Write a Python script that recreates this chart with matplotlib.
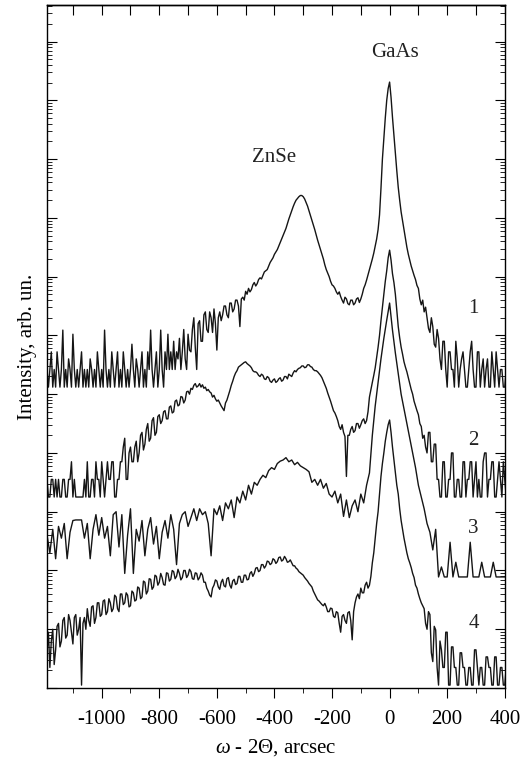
import numpy as np
import matplotlib
matplotlib.use('Agg')
import matplotlib.pyplot as plt
from matplotlib.ticker import LogLocator, NullFormatter, MultipleLocator

# omega - 2theta scan positions, arcsec
x_fine = np.arange(-1190, 406, 5)      # curves 1, 2, 4 (5 arcsec step)
x_coarse = np.arange(-1190, 401, 10)   # curve 3 (10 arcsec step)

# log10 of intensity (curves already shifted apart)
log_I1 = [
    5.42, 5.12, 5.42, 5.72, 5.12, 5.42, 5.12, 5.72, 5.42, 5.12, 5.42, 6.09, 5.12, 5.42, 5.12, 5.60, 5.42, 5.12, 6.02, 5.42,  # -1190
    5.12, 5.42, 5.12, 5.42, 5.72, 5.12, 5.42, 5.12, 5.42, 5.12, 5.60, 5.42, 5.12, 5.42, 5.12, 5.72, 5.42, 5.12, 5.42, 5.12,  # -1090
    6.09, 5.42, 5.12, 5.42, 5.12, 5.72, 5.42, 5.12, 5.42, 5.72, 5.12, 5.42, 5.12, 5.72, 5.42, 5.12, 5.42, 5.12, 5.42, 5.85,  # -990
    5.42, 5.12, 5.60, 5.42, 5.12, 5.42, 5.72, 5.12, 5.42, 5.12, 5.72, 5.42, 6.09, 5.42, 5.12, 5.42, 5.72, 5.12, 5.42, 6.09,  # -890
    5.42, 5.12, 5.72, 5.42, 6.02, 5.42, 5.72, 5.42, 5.90, 5.42, 5.72, 5.60, 5.95, 5.42, 5.72, 6.10, 5.60, 5.42, 6.02, 5.75,  # -790
    5.72, 6.10, 6.30, 5.80, 5.42, 6.20, 6.25, 5.90, 5.90, 6.35, 6.40, 6.10, 6.05, 6.40, 6.30, 6.05, 6.45, 6.20, 5.75, 6.30,  # -690
    6.40, 6.25, 6.35, 6.50, 6.50, 6.35, 6.30, 6.55, 6.55, 6.40, 6.45, 6.60, 6.60, 6.50, 6.15, 6.62, 6.65, 6.60, 6.75, 6.70,  # -590
    6.80, 6.74, 6.78, 6.86, 6.90, 6.84, 6.88, 6.95, 6.98, 6.96, 7.02, 7.08, 7.10, 7.12, 7.18, 7.24, 7.28, 7.32, 7.38, 7.42,  # -490
    7.46, 7.52, 7.58, 7.64, 7.70, 7.76, 7.82, 7.90, 7.98, 8.05, 8.12, 8.19, 8.25, 8.30, 8.33, 8.36, 8.38, 8.38, 8.36, 8.32,  # -390
    8.26, 8.20, 8.12, 8.04, 7.96, 7.88, 7.80, 7.71, 7.62, 7.54, 7.46, 7.38, 7.30, 7.20, 7.12, 7.06, 7.00, 6.92, 6.86, 6.84,  # -290
    6.80, 6.74, 6.70, 6.74, 6.66, 6.60, 6.55, 6.65, 6.62, 6.54, 6.52, 6.60, 6.60, 6.52, 6.55, 6.62, 6.64, 6.56, 6.62, 6.70,  # -190
    6.80, 6.86, 6.94, 7.03, 7.12, 7.21, 7.30, 7.40, 7.52, 7.64, 7.80, 8.05, 8.50, 9.00, 9.35, 9.70, 10.00, 10.20, 10.31, 10.05,  # -90
    9.71, 9.40, 9.10, 8.80, 8.52, 8.30, 8.10, 7.95, 7.80, 7.65, 7.50, 7.38, 7.28, 7.18, 7.10, 7.02, 6.95, 6.85, 6.80, 6.62,  # 10
    6.52, 6.60, 6.40, 6.48, 6.30, 6.12, 6.05, 6.30, 6.15, 5.85, 5.80, 6.10, 5.95, 5.60, 5.42, 5.90, 5.90, 5.42, 5.12, 5.72,  # 110
    5.72, 5.42, 5.42, 5.12, 5.90, 5.60, 5.12, 5.42, 5.60, 5.72, 5.42, 5.12, 5.12, 5.42, 5.72, 5.90, 5.42, 5.12, 5.12, 5.72,  # 210
    5.72, 5.12, 5.42, 5.60, 5.12, 5.42, 5.60, 5.12, 5.12, 5.72, 5.42, 5.12, 5.72, 5.42, 5.12, 5.42, 5.42, 5.12, 5.12, 5.42,  # 310
]
log_I2 = [
    3.55, 3.25, 3.25, 3.55, 3.55, 3.25, 3.55, 3.25, 3.55, 3.25, 3.25, 3.55, 3.55, 3.25, 3.25, 3.55, 3.55, 3.85, 3.25, 3.55,
    3.25, 3.25, 3.25, 3.25, 3.25, 3.25, 3.55, 3.25, 3.85, 3.25, 3.25, 3.55, 3.55, 3.25, 3.85, 3.55, 3.55, 3.25, 3.85, 3.55,
    3.25, 3.55, 3.85, 3.55, 3.55, 3.85, 3.85, 3.25, 3.25, 3.55, 3.55, 3.85, 3.85, 4.10, 4.25, 3.55, 3.55, 4.00, 4.10, 3.85,
    3.85, 4.10, 4.20, 3.85, 4.00, 4.30, 4.35, 4.05, 4.15, 4.40, 4.50, 4.20, 4.25, 4.55, 4.60, 4.30, 4.35, 4.62, 4.65, 4.50,
    4.55, 4.70, 4.72, 4.58, 4.58, 4.78, 4.80, 4.68, 4.70, 4.88, 4.90, 4.80, 4.82, 4.96, 4.95, 4.85, 4.90, 5.04, 5.05, 5.00,
    5.10, 5.08, 5.15, 5.18, 5.12, 5.14, 5.18, 5.12, 5.16, 5.10, 5.12, 5.06, 5.08, 5.04, 5.02, 4.95, 4.98, 4.92, 4.88, 4.90,
    4.85, 4.80, 4.76, 4.72, 4.85, 4.90, 4.98, 5.06, 5.15, 5.22, 5.30, 5.36, 5.40, 5.46, 5.48, 5.50, 5.52, 5.54, 5.55, 5.52,
    5.50, 5.48, 5.45, 5.40, 5.38, 5.38, 5.36, 5.32, 5.30, 5.34, 5.32, 5.26, 5.25, 5.30, 5.28, 5.22, 5.20, 5.24, 5.26, 5.20,
    5.22, 5.26, 5.28, 5.22, 5.24, 5.30, 5.30, 5.26, 5.34, 5.32, 5.30, 5.36, 5.40, 5.38, 5.42, 5.44, 5.45, 5.48, 5.48, 5.45,
    5.46, 5.50, 5.50, 5.47, 5.46, 5.42, 5.40, 5.40, 5.38, 5.35, 5.32, 5.28, 5.22, 5.16, 5.10, 5.02, 4.95, 4.88, 4.80, 4.72,
    4.68, 4.62, 4.55, 4.45, 4.40, 4.48, 4.35, 4.28, 3.60, 4.30, 4.30, 4.40, 4.45, 4.35, 4.38, 4.50, 4.50, 4.42, 4.48, 4.55,
    4.58, 4.50, 4.55, 4.70, 4.95, 5.08, 5.20, 5.32, 5.45, 5.62, 5.80, 6.00, 6.25, 6.48, 6.70, 6.92, 7.10, 7.32, 7.45, 7.28,
    7.05, 6.90, 6.70, 6.42, 6.15, 5.96, 5.80, 5.68, 5.55, 5.46, 5.38, 5.28, 5.18, 5.08, 5.00, 4.88, 4.80, 4.72, 4.65, 4.50,
    4.45, 4.25, 4.30, 4.10, 4.00, 4.35, 4.35, 3.85, 3.85, 4.15, 4.15, 3.55, 3.55, 3.25, 3.25, 3.85, 3.85, 3.25, 3.25, 3.55,
    3.55, 4.00, 4.00, 3.25, 3.25, 3.55, 3.55, 3.25, 3.25, 3.85, 3.85, 3.25, 3.55, 3.55, 3.85, 3.85, 3.25, 3.55, 3.85, 3.25,
    3.55, 3.25, 3.25, 3.85, 4.00, 4.00, 3.25, 3.55, 3.55, 3.85, 3.85, 3.25, 3.25, 3.55, 3.85, 3.55, 3.25, 3.85, 3.55, 3.25,
]
log_I3 = [
    2.60, 2.30, 2.70, 2.20, 2.75, 2.55, 2.80, 2.20, 2.65, 2.85,
    2.86, 2.86, 2.86, 2.55, 2.80, 2.20, 2.70, 2.95, 2.60, 2.90,
    2.55, 2.75, 2.25, 2.95, 3.00, 2.40, 2.95, 1.95, 2.60, 3.05,
    1.95, 2.70, 2.50, 2.85, 2.25, 2.70, 2.90, 2.45, 2.75, 2.20,
    2.65, 2.85, 2.55, 2.95, 2.70, 2.10, 2.80, 2.95, 3.00, 2.75,
    2.90, 3.05, 2.85, 3.05, 2.95, 3.00, 2.80, 2.25, 3.05, 2.95,
    3.10, 2.85, 3.15, 3.05, 3.20, 2.90, 3.25, 3.15, 3.35, 3.20,
    3.45, 3.30, 3.50, 3.45, 3.55, 3.62, 3.58, 3.70, 3.75, 3.72,
    3.82, 3.86, 3.88, 3.92, 3.85, 3.88, 3.80, 3.84, 3.78, 3.75,
    3.72, 3.68, 3.50, 3.55, 3.45, 3.55, 3.40, 3.48, 3.30, 3.25,
    3.35, 3.15, 3.30, 2.92, 3.20, 2.90, 3.10, 3.20, 3.00, 3.30,
    3.15, 3.45, 3.66, 4.30, 4.80, 5.20, 5.60, 5.95, 6.26, 6.55,
    6.09, 5.70, 5.35, 5.00, 4.75, 4.50, 4.25, 4.00, 3.75, 3.45,
    3.25, 3.05, 2.80, 2.65, 2.35, 2.70, 1.89, 2.06, 1.89, 1.89,
    2.48, 1.89, 2.14, 1.89, 1.89, 1.89, 1.89, 2.48, 1.89, 1.89,
    1.89, 2.14, 1.89, 1.89, 1.89, 2.14, 1.89, 1.89, 1.89, 1.89,
]
log_I4 = [
    0.60, 0.95, 0.35, 0.80, 1.00, 0.40, 0.65, 1.05, 1.10, 0.70, 0.80, 1.15, 1.20, 0.85, 0.90, 1.25, 1.15, 0.95, 0.75, 1.20,
    1.25, 0.90, 1.00, 1.20, 0.05, 1.10, 1.20, 1.00, 1.35, 1.15, 1.05, 1.38, 1.40, 1.10, 1.20, 1.45, 1.45, 1.22, 1.25, 1.48,
    1.50, 1.25, 1.30, 1.52, 1.45, 1.30, 1.35, 1.58, 1.55, 1.35, 1.30, 1.60, 1.60, 1.42, 1.45, 1.62, 1.58, 1.38, 1.40, 1.65,
    1.62, 1.48, 1.50, 1.72, 1.70, 1.52, 1.55, 1.82, 1.80, 1.60, 1.65, 1.86, 1.85, 1.68, 1.72, 1.92, 1.90, 1.75, 1.80, 1.95,
    1.88, 1.76, 1.75, 1.96, 1.95, 1.82, 1.85, 2.00, 1.98, 1.86, 1.90, 2.02, 1.95, 1.84, 1.88, 2.00, 2.00, 1.88, 1.92, 2.02,
    1.98, 1.86, 1.85, 1.96, 1.95, 1.84, 1.88, 1.96, 1.92, 1.80, 1.80, 1.70, 1.65, 1.58, 1.55, 1.70, 1.75, 1.84, 1.82, 1.72,
    1.68, 1.80, 1.85, 1.74, 1.72, 1.86, 1.88, 1.75, 1.70, 1.82, 1.85, 1.76, 1.78, 1.90, 1.90, 1.80, 1.80, 1.92, 1.92, 1.84,
    1.85, 1.95, 1.98, 1.90, 1.95, 2.04, 2.05, 1.98, 2.00, 2.10, 2.10, 2.04, 2.08, 2.16, 2.15, 2.10, 2.12, 2.20, 2.18, 2.12,
    2.15, 2.22, 2.23, 2.16, 2.18, 2.24, 2.20, 2.14, 2.15, 2.18, 2.13, 2.08, 2.08, 2.04, 2.02, 1.98, 1.96, 1.94, 1.92, 1.88,
    1.85, 1.82, 1.78, 1.75, 1.72, 1.65, 1.60, 1.55, 1.50, 1.48, 1.45, 1.42, 1.40, 1.44, 1.38, 1.30, 1.30, 1.36, 1.35, 1.22,
    1.20, 1.30, 1.28, 1.10, 0.95, 1.22, 1.25, 1.15, 1.10, 1.28, 1.30, 1.15, 0.82, 1.30, 1.45, 1.55, 1.60, 1.52, 1.70, 1.62,
    1.62, 1.75, 1.80, 1.70, 1.75, 1.90, 2.13, 2.30, 2.55, 2.80, 3.00, 3.30, 3.60, 3.82, 4.00, 4.20, 4.35, 4.48, 4.56, 4.35,
    4.10, 3.88, 3.65, 3.45, 3.30, 3.05, 2.85, 2.70, 2.55, 2.42, 2.30, 2.20, 2.13, 2.05, 1.95, 1.88, 1.75, 1.70, 1.60, 1.52,
    1.45, 1.40, 1.35, 1.10, 1.00, 1.30, 1.25, 0.60, 0.45, 1.05, 0.99, 0.35, 0.05, 0.80, 0.65, 0.35, 0.35, 0.95, 0.95, 0.05,
    0.05, 0.70, 0.70, 0.35, 0.35, 0.05, 0.05, 0.60, 0.60, 0.35, 0.35, 0.05, 0.05, 0.35, 0.35, 0.05, 0.05, 0.65, 0.65, 0.35,
    0.05, 0.35, 0.35, 0.05, 0.05, 0.53, 0.53, 0.35, 0.35, 0.05, 0.05, 0.53, 0.53, 0.05, 0.05, 0.35, 0.35, 0.05, 0.05, 0.35,
]

curve_labels = ['1', '2', '3', '4']
label_x = [291, 291, 291, 291]
label_logy = [6.46, 4.22, 2.72, 1.09]

plt.rcParams['font.family'] = 'Liberation Serif'
plt.rcParams['mathtext.fontset'] = 'custom'
plt.rcParams['mathtext.rm'] = 'Liberation Serif'
plt.rcParams['mathtext.it'] = 'Liberation Serif:italic'
plt.rcParams['font.size'] = 15
plt.rcParams['axes.unicode_minus'] = False
plt.rcParams['axes.linewidth'] = 1.0

fig = plt.figure(figsize=(5.28, 7.58), dpi=100)
ax = fig.add_axes([0.089, 0.0923, 0.867, 0.901])

ax.plot(x_fine, 10 ** np.array(log_I1), color='#151515', lw=1.0)
ax.plot(x_fine, 10 ** np.array(log_I2), color='#151515', lw=1.0)
ax.plot(x_coarse, 10 ** np.array(log_I3), color='#151515', lw=1.0)
ax.plot(x_fine, 10 ** np.array(log_I4), color='#151515', lw=1.0)

for lab, lx, ly in zip(curve_labels, label_x, label_logy):
    ax.text(lx, 10 ** ly, lab, ha='center', va='center', color='#222222')
ax.text(20, 10 ** 10.82, 'GaAs', ha='center', va='center', color='#222222')
ax.text(-402, 10 ** 9.03, 'ZnSe', ha='center', va='center', color='#222222')

ax.set_yscale('log')
ax.set_xlim(-1190, 400)
ax.set_ylim(1, 10 ** 11.62)

ax.yaxis.set_major_locator(LogLocator(base=10, numticks=30))
ax.yaxis.set_minor_locator(LogLocator(base=10, subs=np.arange(2, 10), numticks=30))
ax.yaxis.set_major_formatter(NullFormatter())
ax.yaxis.set_minor_formatter(NullFormatter())
ax.tick_params(axis='y', which='both', direction='in', left=True, right=True)
ax.tick_params(axis='y', which='major', length=7)
ax.tick_params(axis='y', which='minor', length=3.5)

ax.xaxis.set_major_locator(MultipleLocator(200))
ax.xaxis.set_minor_locator(MultipleLocator(100))
ax.tick_params(axis='x', which='both', direction='out', top=False, pad=9)
ax.tick_params(axis='x', which='major', length=7)
ax.tick_params(axis='x', which='minor', length=3.5)

top = ax.secondary_xaxis('top')
top.set_xticks(np.arange(-1100, 401, 100))
top.set_xticklabels([])
top.tick_params(direction='in', length=7)

ax.set_xlabel(r'$\mathit{ω}$ - 2$\mathit{Θ}$, arcsec', labelpad=6)
ax.set_ylabel('Intensity, arb. un.', labelpad=4)

fig.savefig('out.png', dpi=100)
